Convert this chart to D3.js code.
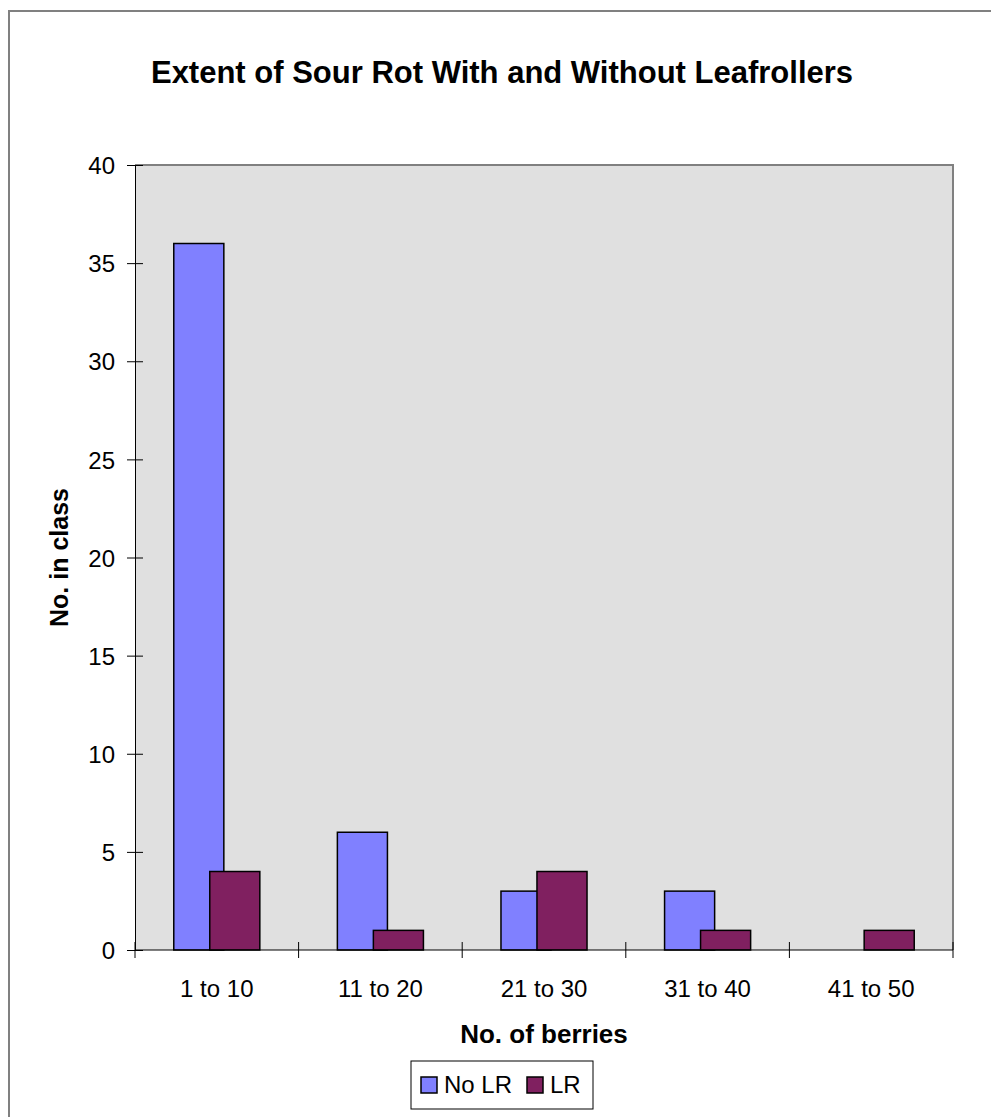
<!DOCTYPE html>
<html lang="en">
<head>
	<meta charset="utf-8">
	<title>Extent of Sour Rot</title>
	<script src="https://d3js.org/d3.v7.min.js"></script>
	<style type="text/css">
		body{ margin:0; background:#fff; }
		svg{ display:block; }
		text{ font-family: "Liberation Sans", Arial, sans-serif; fill:#000; }
		.title, .axisTitle{ font-weight:bold; }
	</style>
</head>
<body>
	<svg id="chart" width="991" height="1117"></svg>

	<script type="text/javascript">

	// data
	var categories = ["1 to 10", "11 to 20", "21 to 30", "31 to 40", "41 to 50"]
	var noLR = [36, 6, 3, 3, 0]
	var lr = [4, 1, 4, 1, 1]
	var yTicks = [0, 5, 10, 15, 20, 25, 30, 35, 40]
	var seriesNames = ["No LR", "LR"]
	var seriesColors = ["#8080ff", "#802060"]

	// layout
	var plot = {left:135, right:953, top:165, bottom:950}
	var svg = d3.select("#chart")

	// outer chart border (runs off the right and bottom edge)
	svg.append("rect")
		.attr("x", 9).attr("y", 11)
		.attr("width", 986).attr("height", 1120)
		.attr("fill", "#fff")
		.attr("stroke", "#808080")
		.attr("stroke-width", 2)

	var x = d3.scaleBand().domain(categories).range([plot.left, plot.right])
	var y = d3.scaleLinear().domain([0, 40]).range([plot.bottom, plot.top])

	// plot area
	svg.append("rect")
		.attr("x", plot.left).attr("y", plot.top)
		.attr("width", plot.right - plot.left)
		.attr("height", plot.bottom - plot.top)
		.attr("fill", "#e0e0e0")
	svg.append("path")
		.attr("d", "M" + plot.left + "," + plot.top + "H" + plot.right + "V" + plot.bottom)
		.attr("fill", "none")
		.attr("stroke", "#808080")
		.attr("stroke-width", 2)

	// bars: two overlapping series per class
	var band = x.bandwidth()
	var barW = band * 0.306
	var step = band * 0.22
	var rows = []
	categories.forEach(function(c, i){
		rows.push({cat:c, s:0, v:noLR[i]})
		rows.push({cat:c, s:1, v:lr[i]})
	})

	svg.append("g")
		.selectAll("rect")
		.data(rows.filter(d => d.v > 0))
		.enter()
		.append("rect")
		.attr("x", d => x(d.cat) + band/2 - (step + barW)/2 + d.s * step)
		.attr("y", d => y(d.v))
		.attr("width", barW)
		.attr("height", d => y(0) - y(d.v))
		.attr("fill", d => seriesColors[d.s])
		.attr("stroke", "#000")
		.attr("stroke-width", 1.5)

	// y axis
	var yAxis = svg.append("g")
		.attr("transform", "translate(" + plot.left + ",0)")
		.call(d3.axisLeft(y).tickValues(yTicks).tickSize(8).tickPadding(12))
	yAxis.select(".domain").attr("stroke", "#000")
	yAxis.selectAll(".tick line").attr("x2", 8).attr("x1", -8)
	yAxis.selectAll(".tick text")
		.attr("font-size", 24)
		.attr("font-family", "Liberation Sans, Arial, sans-serif")
		.attr("x", -20)
		.attr("dy", "0.36em")

	// x axis, ticks between classes
	var xAxis = svg.append("g")
		.attr("transform", "translate(0," + plot.bottom + ")")
	xAxis.append("line")
		.attr("x1", plot.left).attr("x2", plot.right)
		.attr("stroke", "#000")
	xAxis.selectAll(".xtick")
		.data(categories.concat(["end"]))
		.enter()
		.append("line")
		.attr("x1", (d, i) => plot.left + i * band)
		.attr("x2", (d, i) => plot.left + i * band)
		.attr("y1", -8).attr("y2", 8)
		.attr("stroke", "#000")
	xAxis.selectAll(".xlabel")
		.data(categories)
		.enter()
		.append("text")
		.attr("x", d => x(d) + band/2)
		.attr("y", 47)
		.attr("text-anchor", "middle")
		.attr("font-size", 24)
		.text(d => d)

	// titles
	svg.append("text")
		.attr("class", "title")
		.attr("x", 502).attr("y", 83)
		.attr("text-anchor", "middle")
		.attr("font-size", 31)
		.text("Extent of Sour Rot With and Without Leafrollers")

	svg.append("text")
		.attr("class", "axisTitle")
		.attr("transform", "translate(68," + (plot.top + plot.bottom)/2 + ") rotate(-90)")
		.attr("text-anchor", "middle")
		.attr("font-size", 25)
		.text("No. in class")

	svg.append("text")
		.attr("class", "axisTitle")
		.attr("x", (plot.left + plot.right)/2).attr("y", 1043)
		.attr("text-anchor", "middle")
		.attr("font-size", 26)
		.text("No. of berries")

	// legend
	var legend = svg.append("g").attr("transform", "translate(411,1061)")
	legend.append("rect")
		.attr("width", 182).attr("height", 48)
		.attr("fill", "#fff")
		.attr("stroke", "#000")
		.attr("stroke-width", 1)
	var legX = [10, 116]
	var item = legend.selectAll(".item")
		.data(seriesNames)
		.enter()
		.append("g")
		.attr("transform", (d, i) => "translate(" + legX[i] + ",16)")
	item.append("rect")
		.attr("width", 16).attr("height", 16)
		.attr("fill", (d, i) => seriesColors[i])
		.attr("stroke", "#000")
		.attr("stroke-width", 1.5)
	item.append("text")
		.attr("x", 23).attr("y", 16)
		.attr("font-size", 24)
		.text(d => d)

	</script>
</body>
</html>
